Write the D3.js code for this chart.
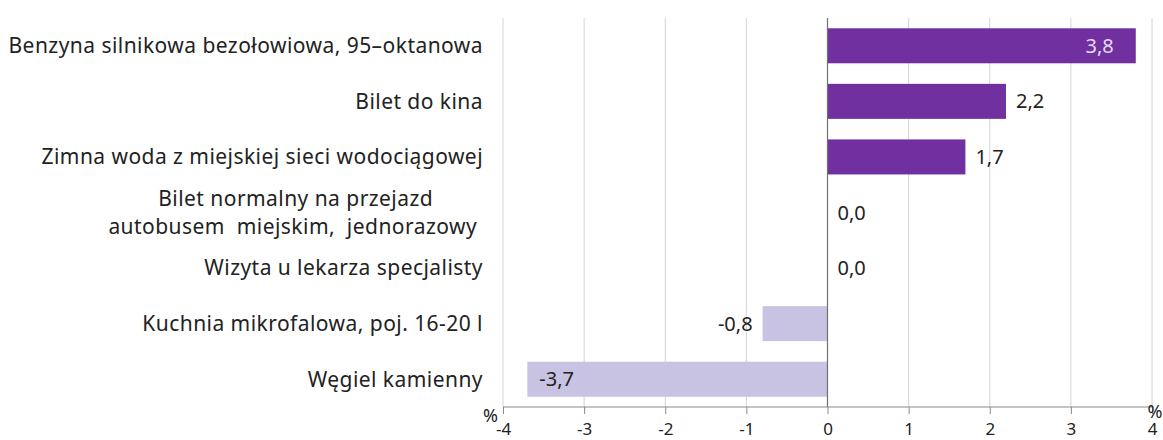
<!DOCTYPE html>
<html>
<head>
<meta charset="utf-8">
<script src="https://cdn.jsdelivr.net/npm/d3@7"></script>
<style>
  html, body { margin: 0; padding: 0; background: #fff; }
  svg { display: block; font-family: "Noto Sans", "Open Sans", sans-serif; }
</style>
</head>
<body>
<svg id="chart" width="1163" height="440"></svg>
<script>
const categories = [
  ["Benzyna silnikowa bezołowiowa, 95–oktanowa"],
  ["Bilet do kina"],
  ["Zimna woda z miejskiej sieci wodociągowej"],
  ["Bilet normalny na przejazd", "autobusem  miejskim,  jednorazowy "],
  ["Wizyta u lekarza specjalisty"],
  ["Kuchnia mikrofalowa, poj. 16-20 l"],
  ["Węgiel kamienny"]
];
const values = [3.8, 2.2, 1.7, 0.0, 0.0, -0.8, -3.7];
const tickValues = [-4, -3, -2, -1, 0, 1, 2, 3, 4];
const unitLabel = "%";

(function () {
const svg = d3.select("#chart");
const pLeft = 503, pRight = 1152, pTop = 18, pBottom = 407;
const labelRight = 483;

const x = d3.scaleLinear().domain([-4, 4]).range([pLeft, pRight]);
const y = d3.scaleBand().domain(d3.range(categories.length)).range([pTop, pBottom])
  .paddingInner(0.37).paddingOuter(0.185);

const fmt = v => d3.format(".1f")(v).replace(".", ",").replace("−", "-");

// gridlines
svg.append("g").selectAll("line").data(tickValues.filter(d => d !== 0)).join("line")
  .attr("x1", d => x(d)).attr("x2", d => x(d))
  .attr("y1", pTop).attr("y2", pBottom)
  .attr("stroke", "#d4d4d4").attr("stroke-width", 1);

// bars
svg.append("g").selectAll("rect").data(values).join("rect")
  .attr("x", d => Math.min(x(0), x(d)))
  .attr("width", d => Math.abs(x(d) - x(0)))
  .attr("y", (d, i) => y(i))
  .attr("height", y.bandwidth())
  .attr("fill", d => d >= 0 ? "#7030a0" : "#c8c3e3");

// zero line
svg.append("line")
  .attr("x1", x(0)).attr("x2", x(0)).attr("y1", pTop).attr("y2", pBottom)
  .attr("stroke", "#707070").attr("stroke-width", 1.2);

// x axis
const axis = d3.axisBottom(x).tickValues(tickValues).tickSize(7).tickPadding(9)
  .tickFormat(d => String(d));
const ax = svg.append("g").attr("transform", `translate(0,${pBottom})`).call(axis);
ax.select(".domain").attr("stroke", "#8a8a8a").attr("d", `M${pLeft},0H${pRight}`);
ax.selectAll(".tick line").attr("stroke", "#8a8a8a");
ax.selectAll(".tick text").attr("fill", "#222").attr("font-size", 17)
  .attr("font-family", "Noto Sans").attr("dy", "0.71em");

// unit labels
svg.append("text").attr("x", pLeft - 5).attr("y", 422).attr("text-anchor", "end")
  .attr("font-size", 18).attr("fill", "#222").text(unitLabel);
svg.append("text").attr("x", pRight + 3).attr("y", 418).attr("text-anchor", "middle")
  .attr("font-size", 18).attr("fill", "#222").text(unitLabel);

// category labels
const lineH = 28;
const catG = svg.append("g");
categories.forEach((lines, i) => {
  const cy = y(i) + y.bandwidth() / 2;
  const g = catG.append("g");
  const texts = lines.map((ln, j) => g.append("text")
    .attr("font-size", 21).attr("fill", "#222")
    .attr("letter-spacing", 0.45)
    .style("white-space", "pre")
    .attr("y", cy + (j - (lines.length - 1) / 2) * lineH)
    .attr("dy", "0.35em")
    .text(ln));
  if (lines.length === 1) {
    texts[0].attr("x", labelRight).attr("text-anchor", "end");
  } else {
    const maxW = d3.max(texts, t => t.node().getComputedTextLength());
    texts.forEach(t => t.attr("x", labelRight - maxW / 2).attr("text-anchor", "middle"));
  }
});

// value labels
svg.append("g").selectAll("text").data(values).join("text")
  .attr("font-size", 20)
  .attr("y", (d, i) => y(i) + y.bandwidth() / 2)
  .attr("dy", "0.35em")
  .attr("x", d => {
    if (d > 3) return x(d) - 22;
    if (d < -3) return x(d) + 12;
    if (d < 0) return x(d) - 10;
    return x(d) + 10;
  })
  .attr("text-anchor", d => (d > 3 || (d < 0 && d >= -3)) ? "end" : "start")
  .attr("fill", d => d > 3 ? "#e6d8f5" : "#222")
  .text(d => fmt(d));
})();
</script>
</body>
</html>
